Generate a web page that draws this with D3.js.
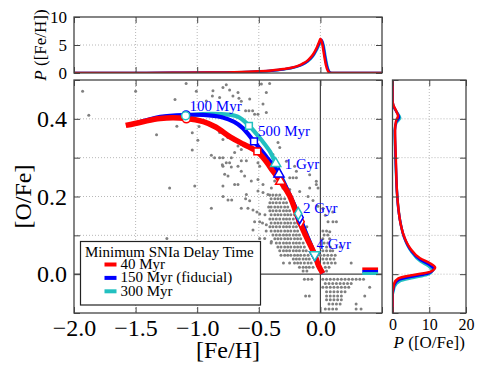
<!DOCTYPE html>
<html>
<head>
<meta charset="utf-8">
<script src="https://cdn.jsdelivr.net/npm/d3@7"></script>
<style>
body { margin: 0; background: #fff; }
svg text { font-family: "Liberation Serif", "Times New Roman", serif !important; }
</style>
</head>
<body>
<div id="chart"></div>
<script>
// ---- data ----
// tracks [Fe/H, O/Fe] for the three minimum SNIa delay times
var track40 = [[-1.58,0.383],[-1.45,0.392],[-1.30,0.401],[-1.09,0.401],[-0.95,0.393],[-0.85,0.379],[-0.73,0.353],[-0.62,0.334],[-0.51,0.315],
  [-0.44,0.29],[-0.385,0.265],[-0.32,0.237],[-0.25,0.202],[-0.17,0.135],[-0.11,0.093],[-0.046,0.05],[-0.015,0.022],[0.02,0.002]];
var track150 = [[-1.50,0.388],[-1.30,0.405],[-1.09,0.41],[-0.95,0.41],[-0.80,0.404],[-0.70,0.392],[-0.63,0.376],[-0.539,0.342],[-0.44,0.303],
  [-0.336,0.258],[-0.25,0.205],[-0.168,0.146],[-0.12,0.108],[-0.046,0.05],[-0.015,0.022],[0.02,0.002]];
var track300 = [[-1.30,0.404],[-1.09,0.409],[-0.90,0.413],[-0.75,0.411],[-0.66,0.404],[-0.58,0.383],[-0.48,0.346],[-0.41,0.316],[-0.363,0.285],
  [-0.276,0.222],[-0.18,0.155],[-0.12,0.108],[-0.046,0.05],[-0.015,0.022],[0.02,0.002]];

// time markers: 100 Myr, 500 Myr, 1 Gyr, 2 Gyr, 4 Gyr
var markerLabels = ['100 Myr', '500 Myr', '1 Gyr', '2 Gyr', '4 Gyr'];
var markers40 = [[-1.088,0.40],[-0.512,0.316],[-0.323,0.239],[-0.16,0.135],[-0.046,0.05]];
var markers150 = [[-1.09,0.41],[-0.539,0.342],[-0.336,0.258],[-0.168,0.146],[-0.046,0.05]];
var markers300 = [[-1.094,0.408],[-0.58,0.382],[-0.363,0.285],[-0.18,0.156],[-0.046,0.05]];
var labelPos = [[-1.062,0.421],[-0.507,0.355],[-0.29,0.27],[-0.141,0.157],[-0.032,0.066]];

// final [O/Fe] bars on the right of the main panel
var endFeH = [0.34, 0.468];
var endOFe = [0.0135, 0.0068, 0.0018];

// P([Fe/H]) top panel
var pFeH40 = [[-2.0,0],[-1.6,0.01],[-1.2,0.04],[-0.9,0.08],[-0.7,0.14],[-0.5,0.3],[-0.4,0.45],[-0.3,0.7],[-0.2,1.15],[-0.15,1.6],
  [-0.1,2.3],[-0.06,3.3],[-0.03,4.5],[-0.01,5.6],[0.0,6.1],[0.015,5.2],[0.03,3.2],[0.045,1.4],[0.06,0.4],[0.075,0.05],[0.09,0],[0.5,0]];
var pFeH150 = [[-2.0,0],[-1.6,0.01],[-1.2,0.04],[-0.9,0.07],[-0.7,0.13],[-0.5,0.28],[-0.4,0.42],[-0.3,0.66],[-0.2,1.1],[-0.15,1.5],
  [-0.1,2.2],[-0.06,3.1],[-0.03,4.3],[-0.005,5.5],[0.008,5.95],[0.022,5.0],[0.037,3.0],[0.052,1.3],[0.066,0.4],[0.08,0.05],[0.095,0],[0.5,0]];
var pFeH300 = [[-2.0,0],[-1.6,0.01],[-1.2,0.03],[-0.9,0.06],[-0.7,0.12],[-0.5,0.26],[-0.4,0.4],[-0.3,0.62],[-0.2,1.05],[-0.15,1.45],
  [-0.1,2.1],[-0.06,3.0],[-0.03,4.1],[0.0,5.4],[0.013,5.8],[0.027,4.9],[0.042,2.9],[0.057,1.2],[0.07,0.35],[0.085,0.05],[0.1,0],[0.5,0]];

// P([O/Fe]) side panel, [O/Fe, P]
var pOFe40 = [[-0.1,0],[-0.045,0],[-0.035,0.25],[-0.024,0.45],[-0.011,1.6],[-0.002,5.7],[0.006,10.2],[0.017,11.6],[0.028,10.2],[0.041,7.5],
  [0.067,4.8],[0.101,3.0],[0.13,2.2],[0.17,1.6],[0.2,1.3],[0.3,0.9],[0.37,0.7],[0.394,0.95],[0.407,1.5],[0.42,1.0],[0.437,0.2],[0.45,0],[0.5,0]];
var pOFe150 = [[-0.1,0],[-0.05,0],[-0.039,0.25],[-0.028,0.5],[-0.015,1.7],[-0.006,5.6],[0.002,9.8],[0.013,11.2],[0.024,10.0],[0.037,7.5],
  [0.063,4.9],[0.097,3.1],[0.126,2.3],[0.166,1.6],[0.2,1.3],[0.3,0.85],[0.37,0.65],[0.392,1.0],[0.404,1.8],[0.418,1.1],[0.435,0.2],[0.45,0],[0.5,0]];
var pOFe300 = [[-0.1,0],[-0.055,0],[-0.044,0.3],[-0.032,0.6],[-0.019,1.9],[-0.01,5.5],[-0.002,9.4],[0.009,10.8],[0.02,9.8],[0.033,7.5],
  [0.059,5.0],[0.093,3.2],[0.122,2.4],[0.162,1.7],[0.2,1.3],[0.3,0.8],[0.37,0.6],[0.39,1.1],[0.402,2.1],[0.416,1.3],[0.433,0.2],[0.45,0],[0.5,0]];

// observed stars: scattered ones as [Fe/H, O/Fe] ...
var sparseStars = [[-1.93,0.471],[-1.88,0.409],[-1.50,0.471],[-1.18,0.45],[-1.33,0.359],[-1.165,0.381],[-1.09,0.491],[-1.007,0.471],
  [-0.985,0.38],[-1.04,0.364],[-0.995,0.345],[-1.04,0.32],[-1.224,0.222],[-1.02,0.227],[-1.246,0.092],[-0.885,0.306],[-0.885,0.17],[-0.796,0.282],
  [-0.872,0.472],[-0.877,0.459],[-0.791,0.481],[-0.764,0.488],[-0.737,0.474],[-0.71,0.459],[-0.669,0.468],[-0.818,0.455],[-0.926,0.446],
  [-0.661,0.453],[-0.642,0.445],[-0.574,0.451],[-0.607,0.421],[-0.58,0.421],[-0.55,0.421],[-0.534,0.412],[-0.507,0.412],[-0.479,0.49],
  [-0.439,0.468],[-0.412,0.491],[-0.466,0.438],[-0.439,0.416],[-0.818,0.365],[-0.791,0.347],[-0.751,0.352],[-0.669,0.33],[-0.642,0.334],
  [-0.642,0.321],[-0.696,0.313],[-0.859,0.3],[-0.818,0.3],[-0.791,0.3],[-0.723,0.3],[-0.764,0.287],[-0.737,0.287],[-0.642,0.292],[-0.601,0.292],
  [-0.791,0.278],[-0.723,0.276],[-0.669,0.278],[-0.642,0.265],[-0.507,0.287],[-0.493,0.278],[-0.777,0.257],[-0.75,0.253],[-0.615,0.253],
  [-0.696,0.231],[-0.669,0.231],[-0.561,0.24],[-0.507,0.244],[-0.466,0.231],[-0.791,0.227],[-0.507,0.214],[-0.466,0.21],[-0.601,0.205],
  [-0.426,0.205],[-0.75,0.191],[-0.72,0.191],[-0.79,0.2],[-0.607,0.194],[-0.574,0.189],[-0.642,0.17],[-0.588,0.17],[-0.547,0.165],
  [-0.515,0.16],[-0.493,0.155],[-0.534,0.135],[-0.493,0.135],[-0.439,0.127],[-0.547,0.114],[-0.493,0.092],[-0.452,0.092],[-0.398,0.084],
  [-0.344,0.339],[-0.33,0.326],[-0.385,0.308],[-0.276,0.291],[-0.209,0.278],[-0.195,0.265],[-0.222,0.248],[-0.249,0.248],[-0.195,0.248],
  [-0.357,0.265],[-0.371,0.24],[-0.398,0.222],[-0.304,0.222],[-0.249,0.218],[-0.033,0.231],[-0.019,0.222],[0.13,0.135],[0.10,0.16],
  [-0.087,0.256],[-0.033,0.239],[-0.087,0.222],[-0.168,0.213],[0.021,0.17],[0.062,0.135],[0.102,0.135],[0.076,0.109],
  [-0.06,0.19],[-0.02,0.175],[0.04,0.152],[-0.1,0.2]];
// ... and the crowded rows: [O/Fe, list of Fe/H]
var denseRows = [
  [0.204, [-0.41,-0.385,-0.358,-0.33,-0.25]],
  [0.194, [-0.40,-0.37,-0.345,-0.32,-0.29]],
  [0.184, [-0.41,-0.385,-0.358,-0.33,-0.30,-0.275]],
  [0.173, [-0.42,-0.40,-0.37,-0.345,-0.32,-0.29,-0.265]],
  [0.163, [-0.41,-0.385,-0.358,-0.33,-0.30,-0.275,-0.25]],
  [0.153, [-0.45,-0.40,-0.37,-0.345,-0.32,-0.29,-0.265,-0.24,-0.21]],
  [0.142, [-0.41,-0.385,-0.358,-0.33,-0.30,-0.275,-0.25,-0.22]],
  [0.132, [-0.47,-0.40,-0.37,-0.345,-0.32,-0.29,-0.265,-0.24,-0.21,-0.185]],
  [0.122, [-0.41,-0.385,-0.358,-0.33,-0.30,-0.275,-0.25,-0.22,-0.195,-0.11]],
  [0.111, [-0.44,-0.40,-0.37,-0.345,-0.32,-0.29,-0.265,-0.24,-0.21,-0.185,0.02,0.05]],
  [0.101, [-0.385,-0.358,-0.33,-0.30,-0.275,-0.25,-0.22,-0.195,-0.17,0.03,0.06]],
  [0.091, [-0.37,-0.345,-0.32,-0.29,-0.265,-0.24,-0.21,-0.185,-0.16,0.02,0.075]],
  [0.080, [-0.40,-0.358,-0.33,-0.30,-0.275,-0.25,-0.22,-0.195,-0.17,-0.14,0.03,0.06]],
  [0.070, [-0.345,-0.32,-0.29,-0.265,-0.24,-0.21,-0.185,-0.16,-0.13,0.0,0.05,0.08,0.16]],
  [0.060, [-0.33,-0.30,-0.275,-0.25,-0.22,-0.195,-0.17,-0.14,-0.115,0.02,0.05,0.08,0.10]],
  [0.049, [-0.32,-0.29,-0.265,-0.24,-0.21,-0.185,-0.16,-0.13,-0.10,0.0,0.03,0.06,0.09,0.12]],
  [0.039, [-0.22,-0.195,-0.17,-0.14,-0.115,-0.09,0.02,0.05,0.08,0.11]],
  [0.029, [-0.30,-0.25,-0.21,-0.185,-0.16,-0.13,-0.10,-0.075,0.03,0.06,0.09,0.12,0.25]],
  [0.018, [-0.17,-0.14,-0.115,-0.09,-0.06,0.04,0.07]],
  [0.008, [-0.14,-0.11,0.05]],
  [-0.013, [-0.13,-0.10,-0.07,0.02,0.05,0.08,0.11,0.14,0.17,0.20,0.23,0.26,0.29,0.32,0.35]],
  [-0.024, [0.04,0.07,0.10,0.13,0.16,0.19,0.22,0.25]],
  [-0.034, [0.02,0.05,0.08,0.11,0.14,0.17,0.20,0.23,0.40]],
  [-0.045, [0.05,0.08,0.11,0.14,0.17,0.20]],
  [-0.056, [-0.12,-0.09,0.05,0.08,0.11,0.14,0.17,0.36]],
  [-0.066, [0.05,0.08,0.11,0.14,0.17]],
  [-0.077, [0.07,0.10,0.13,0.16,0.29]],
  [-0.090, [0.04,0.07,0.10,0.13,0.29,0.33]]
];

var legendTitle = 'Minimum SNIa Delay Time';
var legendItems = ['40 Myr', '150 Myr (fiducial)', '300 Myr'];
var colors = ['#ff0000', '#0000ff', '#22c0c0'];

// ---- layout ----
var W = 491, H = 368;
var main = {left: 74, right: 382, top: 80, bottom: 313};
var topP = {left: 74, right: 382, top: 17, bottom: 73};
var side = {left: 392.5, right: 466, top: 80, bottom: 313};
var gridColor = '#b8b8b8', frameColor = '#444';

var svg = d3.select('#chart').append('svg')
  .attr('width', W).attr('height', H)
  .style('background', '#fff');

var x = d3.scaleLinear().domain([-2, 0.5]).range([main.left, main.right]);
var y = d3.scaleLinear().domain([-0.1, 0.5]).range([main.bottom, main.top]);
var yTop = d3.scaleLinear().domain([0, 10]).range([topP.bottom, topP.top]);
var xSide = d3.scaleLinear().domain([0, 20]).range([side.left, side.right]);

function clipFor(id, p) {
  svg.append('clipPath').attr('id', id).append('rect')
    .attr('x', p.left).attr('y', p.top)
    .attr('width', p.right - p.left).attr('height', p.bottom - p.top);
}
clipFor('clipMain', main);
clipFor('clipTop', topP);
clipFor('clipSide', side);

// dotted grid helper
function vGrid(g, vals, sx, p) {
  g.selectAll(null).data(vals).enter().append('line')
    .attr('x1', sx).attr('x2', sx).attr('y1', p.top).attr('y2', p.bottom)
    .attr('stroke', gridColor).attr('stroke-width', 1).attr('stroke-dasharray', '1,2');
}
function hGrid(g, vals, sy, p) {
  g.selectAll(null).data(vals).enter().append('line')
    .attr('y1', sy).attr('y2', sy).attr('x1', p.left).attr('x2', p.right)
    .attr('stroke', gridColor).attr('stroke-width', 1).attr('stroke-dasharray', '1,2');
}

// inward ticks on all four sides
function ticks(p, sx, xv, xfmt, sy, yv, yfmt, fs) {
  var g = svg.append('g');
  var b = g.append('g').attr('transform', 'translate(0,' + p.bottom + ')')
    .call(d3.axisBottom(sx).tickValues(xv).tickSize(-6).tickPadding(6).tickFormat(xfmt));
  g.append('g').attr('transform', 'translate(0,' + p.top + ')')
    .call(d3.axisTop(sx).tickValues(xv).tickSize(-6).tickFormat(''));
  var l = g.append('g').attr('transform', 'translate(' + p.left + ',0)')
    .call(d3.axisLeft(sy).tickValues(yv).tickSize(-6).tickPadding(7).tickFormat(yfmt));
  g.append('g').attr('transform', 'translate(' + p.right + ',0)')
    .call(d3.axisRight(sy).tickValues(yv).tickSize(-6).tickFormat(''));
  g.selectAll('.domain').remove();
  g.selectAll('.tick line').attr('stroke', frameColor).attr('stroke-width', 1);
  g.selectAll('text').attr('fill', '#000');
  b.selectAll('text').attr('font-size', fs.x + 'px');
  l.selectAll('text').attr('font-size', fs.y + 'px');
  g.append('rect').attr('x', p.left).attr('y', p.top)
    .attr('width', p.right - p.left).attr('height', p.bottom - p.top)
    .attr('fill', 'none').attr('stroke', frameColor).attr('stroke-width', 1.3);
  return g;
}

var fmt1 = d3.format('.1f');

// ---- main panel ----
var gMain = svg.append('g');
vGrid(gMain, [-1.5, -1.0, -0.5], x, main);
hGrid(gMain, [0.1, 0.2, 0.3, 0.4], y, main);
gMain.append('line').attr('x1', x(0)).attr('x2', x(0)).attr('y1', main.top).attr('y2', main.bottom)
  .attr('stroke', frameColor).attr('stroke-width', 1.2);
gMain.append('line').attr('y1', y(0)).attr('y2', y(0)).attr('x1', main.left).attr('x2', main.right)
  .attr('stroke', frameColor).attr('stroke-width', 1.2);

var stars = sparseStars.slice();
denseRows.forEach(function(r) {
  r[1].forEach(function(f) { stars.push([f, r[0]]); });
});
gMain.append('g').attr('clip-path', 'url(#clipMain)')
  .selectAll('circle').data(stars).enter().append('circle')
  .attr('cx', function(d) { return x(d[0]); })
  .attr('cy', function(d) { return y(d[1]); })
  .attr('r', 1.5).attr('fill', '#808080');

// end-of-run bars
endOFe.forEach(function(v, i) {
  gMain.append('line').attr('x1', x(endFeH[0])).attr('x2', x(endFeH[1]))
    .attr('y1', y(v)).attr('y2', y(v))
    .attr('stroke', colors[i]).attr('stroke-width', 3);
});

var trackLine = d3.line()
  .x(function(d) { return x(d[0]); })
  .y(function(d) { return y(d[1]); })
  .curve(d3.curveCatmullRom.alpha(0.5));

var tracks = [track40, track150, track300];
var widths = [5.5, 4.2, 4.2];
[2, 1, 0].forEach(function(i) {
  gMain.append('path').datum(tracks[i])
    .attr('d', trackLine).attr('fill', 'none')
    .attr('stroke', colors[i]).attr('stroke-width', widths[i])
    .attr('stroke-linejoin', 'round');
});

var symbols = [
  d3.symbol().type(d3.symbolCircle).size(50),
  d3.symbol().type(d3.symbolSquare).size(46),
  d3.symbol().type(d3.symbolTriangle).size(44),
  d3.symbol().type(d3.symbolDiamond).size(44),
  d3.symbol().type(d3.symbolTriangle).size(44)
];
[markers40, markers150, markers300].forEach(function(ms, i) {
  ms.forEach(function(m, k) {
    gMain.append('path').attr('d', symbols[k]())
      .attr('transform', 'translate(' + x(m[0]) + ',' + y(m[1]) + ')' + (k === 4 ? ' rotate(180)' : ''))
      .attr('fill', '#fff').attr('stroke', colors[i]).attr('stroke-width', 1.5);
  });
});

gMain.selectAll('.tlabel').data(labelPos).enter().append('text')
  .attr('class', 'tlabel')
  .attr('x', function(d) { return x(d[0]); })
  .attr('y', function(d) { return y(d[1]); })
  .attr('font-size', '15px').attr('fill', '#0000ff')
  .text(function(d, i) { return markerLabels[i]; });

// legend
var lg = gMain.append('g');
lg.append('rect').attr('x', 80.5).attr('y', 241.5).attr('width', 180).attr('height', 63.5)
  .attr('fill', '#fff').attr('stroke', '#222').attr('stroke-width', 1.2);
lg.append('text').attr('x', 85).attr('y', 256.5).attr('font-size', '15px').text(legendTitle);
legendItems.forEach(function(t, i) {
  var yy = 269 + i * 13.4;
  lg.append('rect').attr('x', 104.5).attr('y', yy - 6.5).attr('width', 12).attr('height', 4)
    .attr('fill', colors[i]);
  lg.append('text').attr('x', 120.5).attr('y', yy).attr('font-size', '15px').text(t);
});

ticks(main, x, [-2, -1.5, -1, -0.5, 0, 0.5], function(d) { return d > 0.25 ? '' : fmt1(d); },
  y, [-0.1, 0, 0.1, 0.2, 0.3, 0.4, 0.5],
  function(d) { var k = Math.round(d * 10); return (k >= 0 && k <= 4 && k % 2 === 0) ? fmt1(d) : ''; },
  {x: 24, y: 24});

svg.append('text').attr('x', (main.left + main.right) / 2).attr('y', 358)
  .attr('text-anchor', 'middle').attr('font-size', '24px').text('[Fe/H]');
svg.append('text').attr('transform', 'translate(31,' + (main.top + main.bottom) / 2 + ') rotate(-90)')
  .attr('text-anchor', 'middle').attr('font-size', '24px').text('[O/Fe]');

// ---- top panel: P([Fe/H]) ----
var gTop = svg.append('g');
vGrid(gTop, [-1.5, -1.0, -0.5, 0], x, topP);
hGrid(gTop, [5], yTop, topP);
var topLine = d3.line()
  .x(function(d) { return x(d[0]); })
  .y(function(d) { return yTop(d[1]); })
  .curve(d3.curveMonotoneX);
[pFeH300, pFeH150, pFeH40].forEach(function(c, i) {
  gTop.append('path').datum(c).attr('d', topLine).attr('fill', 'none')
    .attr('clip-path', 'url(#clipTop)')
    .attr('stroke', colors[2 - i]).attr('stroke-width', 2.5);
});
ticks(topP, x, [-2, -1.5, -1, -0.5, 0, 0.5], '', yTop, [0, 5, 10], d3.format('d'), {x: 16, y: 17});
svg.append('text').attr('transform', 'translate(46,' + (topP.top + topP.bottom) / 2 + ') rotate(-90)')
  .attr('text-anchor', 'middle').attr('font-size', '17px')
  .call(function(t) {
    t.append('tspan').attr('font-style', 'italic').text('P');
    t.append('tspan').text(' ([Fe/H])');
  });

// ---- side panel: P([O/Fe]) ----
var gSide = svg.append('g');
vGrid(gSide, [10], xSide, side);
hGrid(gSide, [0, 0.1, 0.2, 0.3, 0.4], y, side);
var sideLine = d3.line()
  .x(function(d) { return xSide(d[1]); })
  .y(function(d) { return y(d[0]); })
  .curve(d3.curveMonotoneY);
[pOFe300, pOFe150, pOFe40].forEach(function(c, i) {
  gSide.append('path').datum(c).attr('d', sideLine).attr('fill', 'none')
    .attr('clip-path', 'url(#clipSide)')
    .attr('stroke', colors[2 - i]).attr('stroke-width', 2.5);
});
ticks(side, xSide, [0, 10, 20], d3.format('d'), y, [-0.1, 0, 0.1, 0.2, 0.3, 0.4, 0.5], '', {x: 16, y: 15});
svg.append('text').attr('x', (side.left + side.right) / 2).attr('y', 348)
  .attr('text-anchor', 'middle').attr('font-size', '17px')
  .call(function(t) {
    t.append('tspan').attr('font-style', 'italic').text('P');
    t.append('tspan').text(' ([O/Fe])');
  });
</script>
</body>
</html>
